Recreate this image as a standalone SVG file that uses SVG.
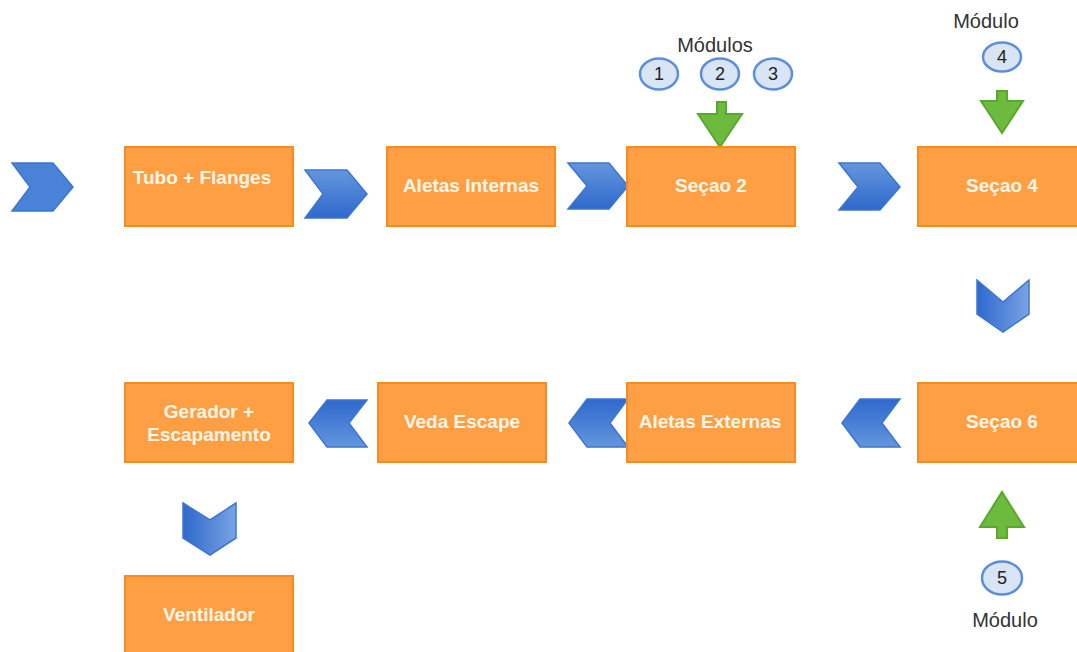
<svg xmlns="http://www.w3.org/2000/svg" width="1077" height="652" viewBox="0 0 1077 652">
<style>
.box{fill:#fe9f43;stroke:#f78b1f;stroke-width:2}
.bt{font-family:"Liberation Sans",Arial,sans-serif;font-size:19px;font-weight:bold;fill:#fff6ea;text-anchor:middle}
.lbl{font-family:"Liberation Sans",Arial,sans-serif;font-size:20px;fill:#333;text-anchor:middle}
.num{font-family:"Liberation Sans",Arial,sans-serif;font-size:18px;fill:#222;text-anchor:middle}
.circ{fill:#d9e4f5;stroke:#5b8fdc;stroke-width:2.5}
.grn{fill:#6cbb3e;stroke:#58a82c;stroke-width:2}
.chr{fill:url(#gR);stroke:#3b76d2;stroke-width:1.5}
.chl{fill:url(#gL);stroke:#3b76d2;stroke-width:1.5}
.chd{fill:url(#gD);stroke:#3b76d2;stroke-width:1.5}
</style>
<defs>
<linearGradient id="gR" x1="0" y1="0" x2="0" y2="1"><stop offset="0" stop-color="#6496de"/><stop offset="1" stop-color="#2e69cc"/></linearGradient>
<linearGradient id="gL" x1="0" y1="0" x2="0" y2="1"><stop offset="0" stop-color="#2e69cc"/><stop offset="1" stop-color="#6496de"/></linearGradient>
<linearGradient id="gD" x1="0" y1="0" x2="1" y2="0"><stop offset="0" stop-color="#2e69cc"/><stop offset="1" stop-color="#79a3e3"/></linearGradient>
</defs>
<rect width="1077" height="652" fill="#fff"/>

<g id="connectors">
<polygon class="chr" style="fill:#4a82d7" points="12,163 53,163 73,187 53,211 12,211 30,187"/>
<polygon class="chr" points="305,170 347,170 367,194 347,218 305,218 323,194"/>
<polygon class="chr" points="568,163 609,163 628,186 609,209 568,209 587,186"/>
<polygon class="chr" points="839,163 880,163 900,187 880,210 839,210 858,187"/>
<polygon class="chd" points="977,280 1003,302 1029,280 1029,314 1003,332 977,314"/>
<polygon class="chl" points="842,423 860,399 900,399 882,423 900,447 860,447"/>
<polygon class="chl" points="569,423 587,399 628,399 610,423 628,447 587,447"/>
<polygon class="chl" points="309,423 327,400 367,400 349,423 367,447 327,447"/>
<polygon class="chd" points="183,503 210,520 236,503 236,538 210,555 183,538"/>
<polygon class="grn" points="717,102 726,102 726,114 742,114 720,147 698,114 717,114"/>
<polygon class="grn" points="997,91 1007,91 1007,101 1023,101 1002,133 981,101 997,101"/>
<polygon class="grn" points="1002,492 1024,527 1007,527 1007,538 997,538 997,527 980,527"/>
</g>

<g id="n-tubo"><rect class="box" x="125" y="147" width="168" height="79"/><text class="bt" x="202" y="184">Tubo + Flanges</text></g>
<g id="n-aletas-int"><rect class="box" x="387" y="147" width="168" height="79"/><text class="bt" x="471" y="192">Aletas Internas</text></g>
<g id="n-secao2"><rect class="box" x="627" y="147" width="168" height="79"/><text class="bt" x="711" y="192">Seçao 2</text></g>
<g id="n-secao4"><rect class="box" x="918" y="147" width="168" height="79"/><text class="bt" x="1002" y="192">Seçao 4</text></g>
<g id="n-secao6"><rect class="box" x="918" y="383" width="168" height="79"/><text class="bt" x="1002" y="428">Seçao 6</text></g>
<g id="n-aletas-ext"><rect class="box" x="627" y="383" width="168" height="79"/><text class="bt" x="710" y="428">Aletas Externas</text></g>
<g id="n-veda"><rect class="box" x="378" y="383" width="168" height="79"/><text class="bt" x="462" y="428">Veda Escape</text></g>
<g id="n-gerador"><rect class="box" x="125" y="383" width="168" height="79"/><text class="bt" x="209" y="418">Gerador +</text><text class="bt" x="209" y="441">Escapamento</text></g>
<g id="n-ventilador"><rect class="box" x="125" y="576" width="168" height="90"/><text class="bt" x="209" y="621">Ventilador</text></g>

<g id="modulos-top">
<text class="lbl" x="715" y="52">Módulos</text>
<ellipse class="circ" cx="659" cy="74" rx="19" ry="15.5"/><text class="num" x="659" y="80">1</text>
<ellipse class="circ" cx="720" cy="74" rx="19" ry="15.5"/><text class="num" x="720" y="80">2</text>
<ellipse class="circ" cx="773" cy="74" rx="19" ry="15.5"/><text class="num" x="773" y="80">3</text>
</g>
<g id="modulo-4">
<text class="lbl" x="986" y="28">Módulo</text>
<ellipse class="circ" cx="1002" cy="57" rx="19" ry="14.5"/><text class="num" x="1002" y="63">4</text>
</g>
<g id="modulo-5">
<text class="lbl" x="1005" y="627">Módulo</text>
<ellipse class="circ" cx="1002" cy="578" rx="20" ry="16.5"/><text class="num" x="1002" y="584">5</text>
</g>
</svg>
